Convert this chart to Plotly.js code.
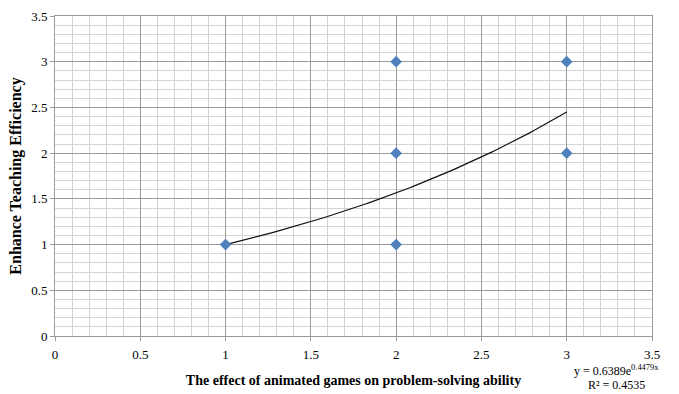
<!DOCTYPE html>
<html><head><meta charset="utf-8">
<script src="https://cdn.plot.ly/plotly-3.0.1.min.js"></script>
<style>body{margin:0;background:#fff}#c{width:679px;height:394px}</style>
</head><body><div id="c"></div>
<script>
const xValues = [1, 2, 2, 2, 3, 3];
const yValues = [1, 3, 2, 1, 3, 2];
const trendA = 0.6389;
const trendB = 0.4479;
const rSquared = 0.4535;
const trendRange = [1, 3];

const tx = [], ty = [];
for (let i = 0; i <= 100; i++) {
  const x = trendRange[0] + (trendRange[1] - trendRange[0]) * i / 100;
  tx.push(x); ty.push(trendA * Math.exp(trendB * x));
}
const serif = "Liberation Serif, Times New Roman, serif";
const data = [
  {x: tx, y: ty, mode: 'lines', line: {color: '#111', width: 1.2}, hoverinfo: 'skip'},
  {x: xValues, y: yValues, mode: 'markers', marker: {symbol: 'diamond', size: 9, color: '#4F81BD'}}
];
const axBase = {
  range: [0, 3.5], dtick: 0.5, tick0: 0, showgrid: true, gridcolor: '#9a9a9a', gridwidth: 1,
  zeroline: false, showline: true, linecolor: '#9a9a9a', ticks: 'outside', ticklen: 4, tickcolor: '#9a9a9a',
  tickfont: {family: serif, size: 13, color: '#000'},
  minor: {tick0: 0, dtick: 0.1, showgrid: true, gridcolor: '#d4d4d4', gridwidth: 1, ticks: ''}
};
const layout = {
  width: 679, height: 394, showlegend: false,
  margin: {l: 55, r: 27, t: 16, b: 58},
  paper_bgcolor: '#fff', plot_bgcolor: '#fff',
  xaxis: Object.assign({}, axBase, {mirror: true, ticklabelstandoff: 2,
    title: {text: 'The effect of animated games on problem-solving ability', font: {family: serif, size: 14, color: '#000', weight: 'bold'}, standoff: 14}}),
  yaxis: Object.assign({}, axBase, {mirror: true,
    title: {text: 'Enhance Teaching Efficiency', font: {family: serif, size: 16, color: '#000', weight: 'bold'}, standoff: 5}}),
  annotations: [
    {xref: 'paper', yref: 'paper', x: 0.941, y: -0.109, xanchor: 'center', yanchor: 'middle', showarrow: false,
     text: 'y = ' + trendA + 'e<sup>' + trendB + 'x</sup>', font: {family: serif, size: 12, color: '#000'}},
    {xref: 'paper', yref: 'paper', x: 0.941, y: -0.153, xanchor: 'center', yanchor: 'middle', showarrow: false,
     text: 'R² = ' + rSquared, font: {family: serif, size: 12, color: '#000'}}
  ]
};
Plotly.newPlot('c', data, layout, {displayModeBar: false, staticPlot: true});
</script></body></html>
